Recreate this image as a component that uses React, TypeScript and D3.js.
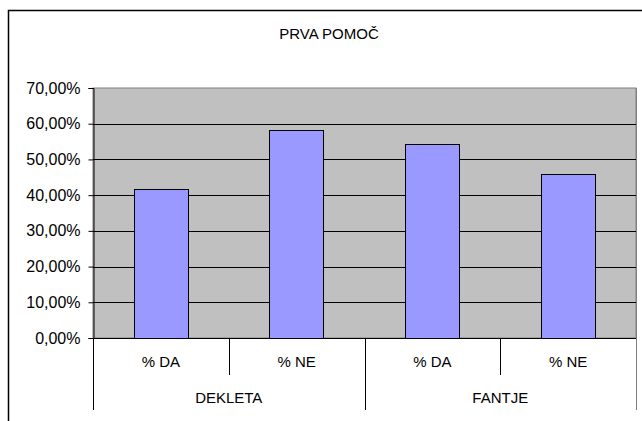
import React, { useRef, useEffect } from 'react';
import * as d3 from 'd3';

const title = 'PRVA POMOČ';
const groups = ['DEKLETA', 'FANTJE'];
const answers = ['% DA', '% NE'];
const values = [41.7, 58.3, 54.2, 45.8];
const yTicks = [0, 10, 20, 30, 40, 50, 60, 70];

const App = () => {
  const ref = useRef<SVGSVGElement>(null);

  useEffect(() => {
    if (!ref.current) return;
    const svg = d3.select(ref.current);
    svg.selectAll('*').remove();

    const left = 93, right = 636, top = 88, bottom = 338;
    const font = 'Liberation Sans, Arial, sans-serif';

    // outer chart border
    svg.append('rect')
      .attr('x', 8.5).attr('y', 10.5)
      .attr('width', 642).attr('height', 420)
      .attr('fill', '#fff')
      .attr('stroke', '#000').attr('stroke-width', 1.5);

    svg.append('text')
      .attr('x', 329).attr('y', 39)
      .attr('text-anchor', 'middle')
      .attr('font-family', font).attr('font-size', 15)
      .attr('fill', '#000')
      .text(title);

    const cats = groups.flatMap(g => answers.map(a => `${g}|${a}`));
    const x = d3.scaleBand().domain(cats).range([left, right]).paddingInner(0).paddingOuter(0);
    const y = d3.scaleLinear().domain([0, 70]).range([bottom, top]);

    // plot area
    svg.append('rect')
      .attr('x', left).attr('y', top)
      .attr('width', right - left).attr('height', bottom - top)
      .attr('fill', '#c0c0c0')
      .attr('stroke', '#808080').attr('stroke-width', 1);

    // gridlines
    svg.append('g')
      .selectAll('line')
      .data(yTicks.slice(1, -1))
      .join('line')
      .attr('x1', left).attr('x2', right)
      .attr('y1', d => Math.round(y(d)) + 0.5).attr('y2', d => Math.round(y(d)) + 0.5)
      .attr('stroke', '#000');

    // bars
    const bw = x.bandwidth() * 0.4;
    svg.append('g')
      .selectAll('rect')
      .data(values)
      .join('rect')
      .attr('x', (d, i) => Math.round(x(cats[i])! + (x.bandwidth() - bw) / 2) + 0.5)
      .attr('y', d => Math.round(y(d)) + 0.5)
      .attr('width', Math.round(bw))
      .attr('height', d => Math.round(bottom - y(d)))
      .attr('fill', '#9999ff')
      .attr('stroke', '#000').attr('stroke-width', 1);

    // y axis
    const yAxis = svg.append('g')
      .attr('transform', `translate(${left + 0.5},0)`)
      .call(d3.axisLeft(y).tickValues(yTicks).tickSize(5).tickPadding(8)
        .tickFormat(d => `${(d as number).toFixed(2).replace('.', ',')}%`));
    yAxis.select('.domain').attr('stroke', '#000');
    yAxis.selectAll('.tick line').attr('stroke', '#000');
    yAxis.selectAll('text')
      .attr('font-family', font).attr('font-size', 16)
      .attr('fill', '#000');

    // x axis baseline
    svg.append('line')
      .attr('x1', left).attr('x2', right)
      .attr('y1', bottom + 0.5).attr('y2', bottom + 0.5)
      .attr('stroke', '#000');

    // left axis extension & dividers
    svg.append('line')
      .attr('x1', left + 0.5).attr('x2', left + 0.5)
      .attr('y1', bottom).attr('y2', 410)
      .attr('stroke', '#000');
    svg.append('line')
      .attr('x1', right + 0.5).attr('x2', right + 0.5)
      .attr('y1', top).attr('y2', 410)
      .attr('stroke', '#808080');

    const groupWidth = (right - left) / groups.length;
    groups.forEach((g, gi) => {
      const gx = left + gi * groupWidth;
      if (gi > 0) {
        svg.append('line')
          .attr('x1', Math.round(gx) + 0.5).attr('x2', Math.round(gx) + 0.5)
          .attr('y1', bottom).attr('y2', 410)
          .attr('stroke', '#000');
      }
      // inner divider between answers
      const mid = x(`${g}|${answers[1]}`)!;
      svg.append('line')
        .attr('x1', Math.round(mid) + 0.5).attr('x2', Math.round(mid) + 0.5)
        .attr('y1', bottom).attr('y2', 375)
        .attr('stroke', '#000');
      svg.append('text')
        .attr('x', gx + groupWidth / 2).attr('y', 403)
        .attr('text-anchor', 'middle')
        .attr('font-family', font).attr('font-size', 15)
        .attr('fill', '#000')
        .text(g);
    });

    svg.append('g')
      .selectAll('text')
      .data(cats)
      .join('text')
      .attr('x', d => x(d)! + x.bandwidth() / 2)
      .attr('y', 367)
      .attr('text-anchor', 'middle')
      .attr('font-family', font).attr('font-size', 15)
      .attr('fill', '#000')
      .text(d => d.split('|')[1]);
  }, []);

  return (
    <svg
      ref={ref}
      width={642}
      height={421}
      style={{ position: 'absolute', left: 0, top: 0, background: '#fff' }}
    />
  );
};

export default App;
